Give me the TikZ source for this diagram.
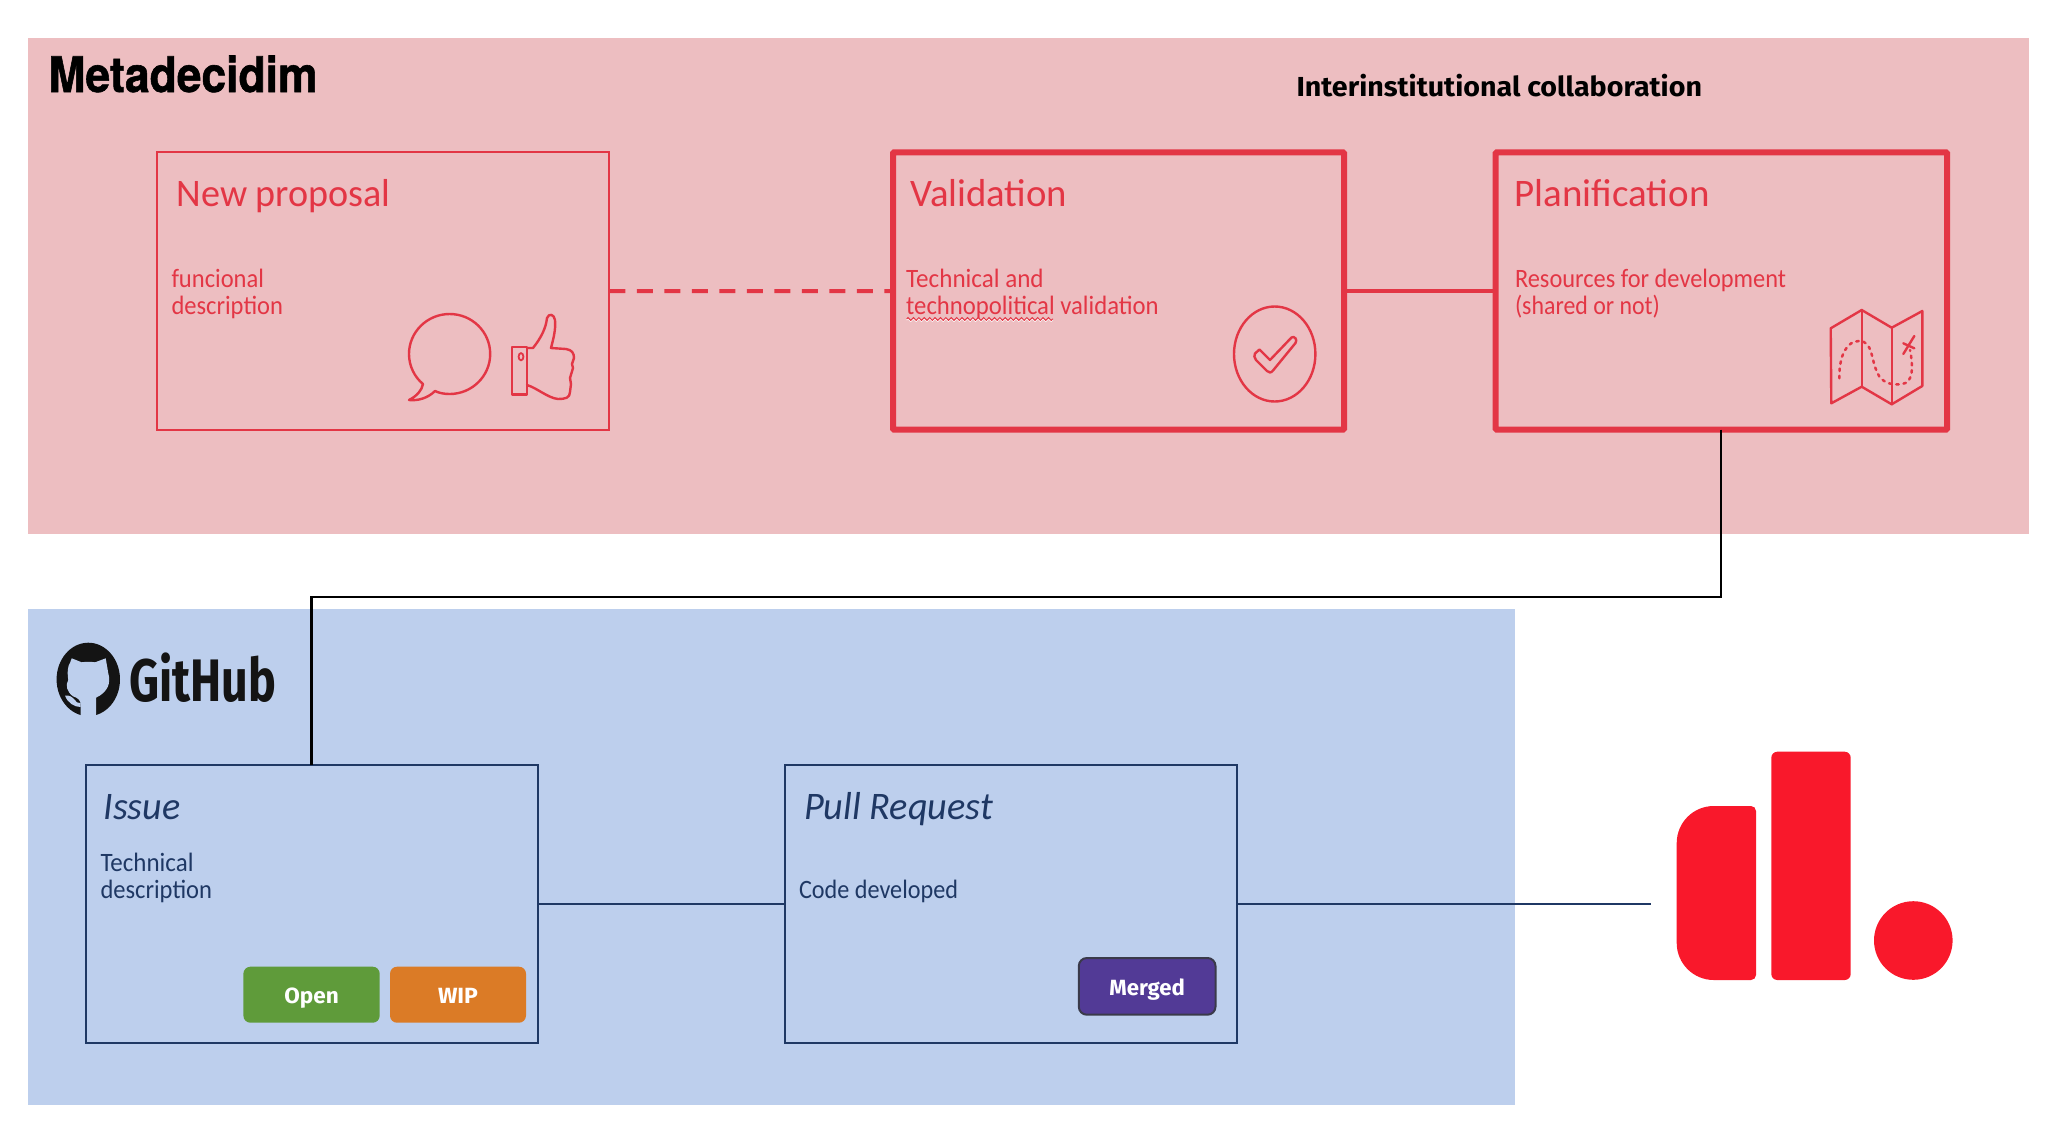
\documentclass[tikz,border=0pt]{standalone}
\usepackage{graphicx}
\usepackage{fontspec}
\setmainfont{Carlito}
\newfontfamily\headfont{TeX Gyre Heros}[BoldFeatures={FakeBold=1.2}]
\newfontfamily\ghfont{Fira Sans}
\usetikzlibrary{decorations.pathmorphing}
\definecolor{pinkbg}{HTML}{EDBEC1}
\definecolor{redline}{HTML}{E33645}
\definecolor{bluebg}{HTML}{BDCFED}
\definecolor{navy}{HTML}{1F3864}
\definecolor{logored}{HTML}{F9182B}
\definecolor{openc}{HTML}{5F9B3A}
\definecolor{wipc}{HTML}{DB7B26}
\definecolor{mergedc}{HTML}{523A96}
\definecolor{mergedb}{HTML}{3A3A4A}
\definecolor{catblack}{HTML}{141414}
\newcommand{\W}[2]{\resizebox{#1pt}{\height}{#2}}
\tikzset{
  x=1pt,y=-1pt,
  panel/.style={inner sep=0,outer sep=0,anchor=north west,draw=none},
  card/.style={inner sep=0,outer sep=0,anchor=north west},
  thincard/.style={card,draw=redline,line width=2pt},
  thickcard/.style={card,draw=redline,line width=6pt,rounded corners=1pt},
  gitcard/.style={card,draw=navy,line width=2pt},
  label/.style={inner sep=0,outer sep=0,anchor=base west},
  redtitle/.style={label,text=redline,font=\fontsize{39}{39}\selectfont},
  redbody/.style={label,text=redline,font=\fontsize{26.5}{26.5}\selectfont},
  navytitle/.style={label,text=navy,font=\itshape\fontsize{39}{39}\selectfont},
  navybody/.style={label,text=navy,font=\fontsize{26.5}{26.5}\selectfont},
  badge/.style={inner sep=0,outer sep=0,anchor=north west,rounded corners=7pt,text=white,
    font=\ghfont\bfseries\fontsize{22}{22}\selectfont,text depth=0pt,text height=17.2pt},
  icon/.style={draw=redline,line width=2.4pt,line join=round,line cap=round},
}
\begin{document}
\begin{tikzpicture}
\useasboundingbox (0,0) rectangle (2064,1144);
% panels
\node[panel,fill=pinkbg,minimum width=2001pt,minimum height=495.4pt] (meta) at (28,38.3) {};
\node[panel,fill=bluebg,minimum width=1487.3pt,minimum height=495.7pt] (gh) at (28,609.3) {};
% headings
\node[label,font=\headfont\bfseries\fontsize{49}{49}\selectfont] (metat) at (48.5,92) {\W{269}{Metadecidim}};
\node[label,font=\ghfont\bfseries\fontsize{27.5}{28}\selectfont] (inter) at (1296.5,96.7) {\W{405.5}{Interinstitutional collaboration}};
% red cards
\node[thincard,minimum width=452.7pt,minimum height=277.7pt] (prop) at (156.7,152.3) {};
\node[thickcard,minimum width=451pt,minimum height=277.4pt] (valid) at (893,152.3) {};
\node[thickcard,minimum width=451.3pt,minimum height=277.4pt] (plan) at (1495.7,152.3) {};
% blue cards
\node[gitcard,minimum width=452pt,minimum height=277.7pt] (issue) at (85.5,765) {};
\node[gitcard,minimum width=452pt,minimum height=277.7pt] (pr) at (785,765) {};
% connectors
\draw[redline,line width=4pt,dash pattern=on 16pt off 11.5pt,dash phase=0pt] (prop.east) -- (valid.west);
\draw[redline,line width=4pt] (valid.east) -- (plan.west);
\coordinate (jog) at (1000,597.3);
\draw[black,line width=2.2pt,line join=miter] (plan.south) -- (plan.south |- jog) -- (issue.north |- jog) -- (issue.north);
\coordinate (logoend) at (1650.7,903.7);
\draw[navy,line width=2pt] (issue.east) -- (pr.west);
\draw[navy,line width=2pt] (pr.east) -- (pr.east -| logoend);
% red card texts
\node[redtitle] (t1) at (176.7,206.7) {\W{214}{New proposal}};
\node[redbody] (b1a) at (171.5,287) {\W{92.5}{funcional}};
\node[redbody] (b1b) at (171.5,314) {\W{111.5}{description}};
\node[redtitle] (t2) at (910.2,206.7) {\W{157}{Validation}};
\node[redbody] (b2a) at (906.2,287) {\W{137.5}{Technical and}};
\node[redbody] (b2b) at (906.2,314) {\W{252.5}{technopolitical validation}};
\draw[white,line width=1pt,decorate,decoration={zigzag,segment length=5.4pt,amplitude=1.4pt}] (906.7,320) -- (1053,320);
\draw[redline,line width=1pt,decorate,decoration={zigzag,segment length=5.4pt,amplitude=1.4pt}] (906.7,319) -- (1053,319);
\node[redtitle] (t3) at (1514.5,206.7) {\W{195}{Planification}};
\node[redbody] (b3a) at (1515,287) {\W{271}{Resources for development}};
\node[redbody] (b3b) at (1515,314) {\W{145}{(shared or not)}};
% blue card texts
\node[navytitle] (t4) at (103.5,819.3) {\W{77}{Issue}};
\node[navybody] (b4a) at (100.5,871) {\W{93}{Technical}};
\node[navybody] (b4b) at (100.5,898) {\W{111.5}{description}};
\node[navytitle] (t5) at (804,819.3) {\W{189}{Pull Request}};
\node[navybody] (b5) at (799,898) {\W{159}{Code developed}};
% badges
\node[badge,fill=openc,minimum width=136.3pt,minimum height=56pt] (open) at (243.4,966.7) {\W{54.5}{Open}};
\node[badge,fill=wipc,minimum width=136pt,minimum height=56pt] (wip) at (390,966.7) {\W{40}{WIP}};
\node[badge,fill=mergedc,draw=mergedb,line width=2pt,rounded corners=8pt,text height=19pt,minimum width=136.7pt,minimum height=56.7pt] (merged) at (1078.8,958) {\W{75.7}{Merged}};
% speech bubble icon
\draw[icon] (423,384) .. controls (414.5,377) and (409,366) .. (409,354)
  .. controls (409,331.8) and (427.4,314) .. (449.6,314)
  .. controls (472,314) and (490.2,331.8) .. (490.2,354)
  .. controls (490.2,376) and (472,394) .. (449.6,394)
  .. controls (444,394) and (439,393) .. (435,391)
  .. controls (428,398) and (418,401) .. (409,400)
  .. controls (417,396) and (422,390) .. (423,384) -- cycle;
% thumb icon
\draw[icon] (512,346.7) rectangle (527,394.3);
\draw[redline,line width=1.8pt] (521,356.7) ellipse (2.4 and 3.6);
\draw[icon] (527,348) -- (533,348) .. controls (541,338) and (546,328) .. (547,318)
  .. controls (549,313) and (554,314) .. (555,320)
  .. controls (556,330) and (553,340) .. (551,348)
  -- (566,349) .. controls (572,350) and (574,353) .. (574,358)
  -- (572,364) -- (573,368) -- (570,378) -- (571,384) -- (570,392)
  .. controls (570,398) and (565,399) .. (558,399)
  .. controls (548,398) and (537,388) .. (527,385);
% check icon
\draw[redline,line width=2.4pt] (1274.7,354) ellipse (40.7 and 47.5);
\draw[icon] (1255,353.5) -- (1259.5,349.5) -- (1270,360) -- (1291.5,337.5)
  .. controls (1294,335.5) and (1298,339.5) .. (1295.5,343)
  -- (1273,370.5) .. controls (1271,373) and (1269,373) .. (1267,371)
  -- (1256,360) .. controls (1254,358) and (1254,355) .. (1255,353.5) -- cycle;
% map icon
\draw[icon] (1830.7,328.3) -- (1861.7,310) -- (1891.7,327.7) -- (1922.3,311) -- (1922.3,386)
  -- (1891.7,404.3) -- (1861.7,386.7) -- (1831.3,403.3) -- cycle;
\draw[icon] (1861.7,310) -- (1861.7,386.7);
\draw[icon] (1891.7,327.7) -- (1891.7,404.3);
\draw[redline,line width=2.5pt,line cap=round,dash pattern=on 2.5pt off 4.8pt] (1839.3,378.3)
  .. controls (1839,355) and (1847,341) .. (1859,341)
  .. controls (1873,341) and (1871,360) .. (1877,372)
  .. controls (1882,385) and (1895,385) .. (1902,384)
  .. controls (1914,383) and (1913,365) .. (1910,350);
\draw[icon] (1903.3,354) -- (1914.3,336);
\draw[icon] (1903.3,343.3) -- (1914.3,348.3);
% GitHub mark
\fill[catblack] (88.3,679.4) ellipse (31.7 and 36.7);
\fill[bluebg] (71.7,658.3) -- (81.7,662.3) .. controls (86,661.6) and (91,661.6) .. (95,662.3)
  -- (105.7,658.3) -- (108.3,673.3) .. controls (111,683) and (108,692) .. (96,697.7)
  -- (96,718) -- (80.7,718) -- (80.7,705) .. controls (80.7,700) and (78,698) .. (73,696.3)
  .. controls (67,692) and (65,685) .. (68.3,680) .. controls (67,672) and (68,665) .. (70,663) -- cycle;
\fill[bluebg] (65,695.7) .. controls (70,695) and (72,697) .. (75,700) .. controls (77,703) and (78,703) .. (80.7,703)
  -- (80.7,707) .. controls (74,707) and (68,703) .. (65,695.7) -- cycle;
\node[label,font=\ghfont\bfseries\fontsize{60}{60}\selectfont,text=catblack] (ghtxt) at (129.5,701) {\W{147}{GitHub}};
% logo
\fill[logored] (1756,811) -- (1756,975) arc[start angle=0,end angle=90,radius=5] -- (1713.7,980)
  arc[start angle=90,end angle=180,radius=37] -- (1676.7,843) arc[start angle=180,end angle=270,radius=37]
  -- (1751,806) arc[start angle=270,end angle=360,radius=5] -- cycle;
\fill[logored,rounded corners=6pt] (1771.3,751.7) rectangle (1850.7,980);
\fill[logored] (1913.3,940.5) circle (39.3);
\end{tikzpicture}
\end{document}
